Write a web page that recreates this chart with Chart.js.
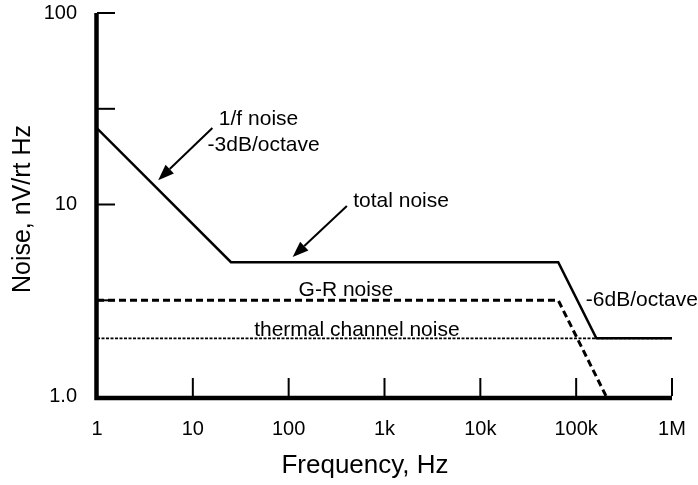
<!DOCTYPE html>
<html>
<head>
<meta charset="utf-8">
<script src="https://cdn.jsdelivr.net/npm/chart.js@4"></script>
<style>
  html, body { margin: 0; padding: 0; background: #fff; }
</style>
</head>
<body>
<canvas id="noiseChart" width="698" height="485"></canvas>
<script>
// break points of the noise curves (frequency in Hz, noise in nV/rtHz)
const totalFreq = [1, 25, 65000, 162500, 1000000];
const totalNoise = [25, 5, 5, 2, 2];
const grFreq = [1, 65000, 205000];
const grNoise = [3.16, 3.16, 1.0];
const thermalFreq = [1, 1000000];
const thermalNoise = [2, 2];

const xTicks = [1, 10, 100, 1000, 10000, 100000, 1000000];
const xTickLabels = ['1', '10', '100', '1k', '10k', '100k', '1M'];
const yTicks = [1, 10, 100];
const yTickLabels = ['1.0', '10', '100'];
const yMarks = [3.16, 10, 31.6, 100];

// text notes, placed in data units
const noteText = ['1/f noise', '-3dB/octave', 'total noise', 'G-R noise', 'thermal channel noise', '-6dB/octave'];
const noteFreq = [48.5, 54.7, 1490, 395, 515, 485000];
const noteLevel = [27.9, 20.5, 10.4, 3.58, 2.21, 3.17];

// arrows: start -> tip
const arrowFrom = [[16, 25.1], [405, 9.83]];
const arrowTo = [[4.35, 13.4], [110, 5.32]];

const FONT = '"Liberation Sans", Arial, sans-serif';

const toPts = (xs, ys) => xs.map((x, i) => ({ x: x, y: ys[i] }));

const frame = {
  id: 'frame',
  afterDraw(chart) {
    const ctx = chart.ctx;
    const xs = chart.scales.x, ys = chart.scales.y;
    const area = chart.chartArea;
    ctx.save();
    ctx.strokeStyle = '#000';
    ctx.fillStyle = '#000';

    // tick marks pointing into the plot
    ctx.lineWidth = 2;
    yMarks.forEach(v => {
      const py = ys.getPixelForValue(v);
      ctx.beginPath();
      ctx.moveTo(area.left, py);
      ctx.lineTo(area.left + 18, py);
      ctx.stroke();
    });
    xTicks.slice(1).forEach(v => {
      const px = xs.getPixelForValue(v);
      ctx.beginPath();
      ctx.moveTo(px, area.bottom);
      ctx.lineTo(px, area.bottom - 18);
      ctx.stroke();
    });

    // heavy axes
    ctx.lineWidth = 4.5;
    ctx.lineCap = 'butt';
    ctx.beginPath();
    ctx.moveTo(area.left - 0.5, area.top);
    ctx.lineTo(area.left - 0.5, area.bottom + 2);
    ctx.lineTo(area.right, area.bottom + 2);
    ctx.stroke();

    // arrows
    ctx.lineWidth = 2;
    arrowFrom.forEach((a, i) => {
      const x1 = xs.getPixelForValue(a[0]), y1 = ys.getPixelForValue(a[1]);
      const x2 = xs.getPixelForValue(arrowTo[i][0]), y2 = ys.getPixelForValue(arrowTo[i][1]);
      const ang = Math.atan2(y2 - y1, x2 - x1);
      const hl = 16, hw = 6;
      const bx = x2 - hl * Math.cos(ang), by = y2 - hl * Math.sin(ang);
      ctx.beginPath();
      ctx.moveTo(x1, y1);
      ctx.lineTo(bx, by);
      ctx.stroke();
      ctx.beginPath();
      ctx.moveTo(x2, y2);
      ctx.lineTo(bx + hw * Math.sin(ang), by - hw * Math.cos(ang));
      ctx.lineTo(bx - hw * Math.sin(ang), by + hw * Math.cos(ang));
      ctx.closePath();
      ctx.fill();
    });

    // notes
    ctx.font = '21px ' + FONT;
    ctx.textAlign = 'center';
    ctx.textBaseline = 'middle';
    noteText.forEach((t, i) => {
      ctx.fillText(t, xs.getPixelForValue(noteFreq[i]), ys.getPixelForValue(noteLevel[i]));
    });

    // axis titles
    ctx.font = '26px ' + FONT;
    ctx.fillText('Frequency, Hz', 365, 466);
    ctx.translate(23, 209);
    ctx.rotate(-Math.PI / 2);
    ctx.font = '25px ' + FONT;
    ctx.fillText('Noise, nV/rt Hz', 0, 0);
    ctx.restore();
  }
};

new Chart(document.getElementById('noiseChart'), {
  type: 'line',
  data: {
    datasets: [
      {
        label: 'thermal channel noise',
        data: toPts(thermalFreq, thermalNoise),
        borderColor: '#000',
        borderWidth: 1.6,
        borderDash: [3, 1.5],
        pointRadius: 0
      },
      {
        label: 'G-R noise',
        data: toPts(grFreq, grNoise),
        borderColor: '#000',
        borderWidth: 3,
        borderDash: [7, 4],
        pointRadius: 0
      },
      {
        label: 'total noise',
        data: toPts(totalFreq, totalNoise),
        borderColor: '#000',
        borderWidth: 2.5,
        pointRadius: 0
      }
    ]
  },
  options: {
    responsive: false,
    animation: false,
    layout: { padding: { top: 13, right: 26, left: 0, bottom: 0 } },
    plugins: { legend: { display: false }, tooltip: { enabled: false } },
    scales: {
      x: {
        type: 'logarithmic',
        min: 1,
        max: 1000000,
        grid: { display: false, drawTicks: false },
        border: { display: false },
        afterBuildTicks: s => { s.ticks = xTicks.map(v => ({ value: v })); },
        afterFit: s => { s.height = 89; s.paddingLeft = 0; s.paddingRight = 0; },
        ticks: {
          autoSkip: false,
          maxRotation: 0,
          padding: 21,
          color: '#000',
          font: { family: FONT, size: 20 },
          callback: v => xTickLabels[xTicks.indexOf(v)]
        }
      },
      y: {
        type: 'logarithmic',
        min: 1,
        max: 100,
        grid: { display: false, drawTicks: false },
        border: { display: false },
        afterBuildTicks: s => { s.ticks = yTicks.map(v => ({ value: v })); },
        afterFit: s => { s.width = 97; s.paddingTop = 0; s.paddingBottom = 0; },
        ticks: {
          padding: 20,
          color: '#000',
          font: { family: FONT, size: 20 },
          callback: v => yTickLabels[yTicks.indexOf(v)]
        }
      }
    }
  },
  plugins: [frame]
});
</script>
</body>
</html>
